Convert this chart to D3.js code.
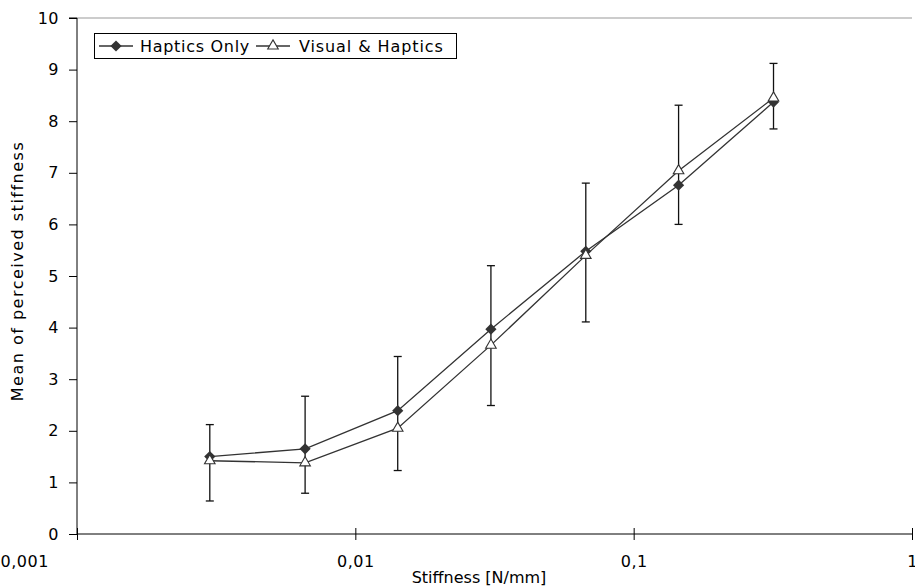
<!DOCTYPE html>
<html><head><meta charset="utf-8">
<script src="https://cdn.jsdelivr.net/npm/d3@7"></script>
<style>body{margin:0;background:#fff}svg{display:block}text{font-family:"DejaVu Sans",Verdana,sans-serif}</style>
</head><body><svg id="c" width="915" height="587"></svg>
<script>
const stiffness = [0.003, 0.0066, 0.0142, 0.0307, 0.0673, 0.145, 0.318];
const hapticsOnly = [1.50, 1.65, 2.39, 3.97, 5.48, 6.76, 8.37];
const visualHaptics = [1.42, 1.38, 2.05, 3.66, 5.40, 7.04, 8.45];
const errTop = [2.12, 2.67, 3.44, 5.20, 6.80, 8.31, 9.12];
const errBottom = [0.64, 0.79, 1.23, 2.49, 4.11, 6.00, 7.85];
const xTicks = [0.001, 0.01, 0.1, 1];
const xTickLabels = ["0,001", "0,01", "0,1", "1"];
const yTicks = [0,1,2,3,4,5,6,7,8,9,10];
const seriesNames = ["Haptics Only", "Visual & Haptics"];

const svg = d3.select("#c");
const L = 77, R = 912, T = 18, B = 534;
const x = d3.scaleLog().domain([0.001, 1]).range([L, R]);
const y = d3.scaleLinear().domain([0, 10]).range([B, T]);
const fs = 16;

svg.append("line").attr("x1", L).attr("x2", R).attr("y1", T).attr("y2", T).attr("stroke", "#999").attr("stroke-width", 1);

const ya = svg.append("g").attr("transform", `translate(${L},0)`)
  .call(d3.axisLeft(y).tickValues(yTicks).tickSize(8).tickPadding(10).tickFormat(d3.format("d")));
ya.select(".domain").attr("stroke", "#000").attr("d", `M-8,${T}H0V${B}`);
ya.selectAll("text").attr("font-size", fs).attr("fill", "#000").attr("font-family", '"DejaVu Sans",Verdana,sans-serif').attr("letter-spacing", 0.5);

const xa = svg.append("g").attr("transform", `translate(0,${B})`)
  .call(d3.axisBottom(x).tickValues(xTicks).tickSize(6).tickPadding(16).tickFormat((d,i)=>xTickLabels[i]));
xa.select(".domain").attr("stroke", "#000").attr("d", `M${L},0H${R}`);
xa.selectAll(".tick line").attr("y1", -6).attr("y2", 6);
xa.selectAll("text").attr("font-size", fs).attr("fill", "#000").attr("font-family", '"DejaVu Sans",Verdana,sans-serif').attr("letter-spacing", 0.5);
// first label sits at the left edge as in the reference
xa.selectAll(".tick text").filter((d,i)=>i===0).attr("text-anchor", "start").attr("x", -L);

svg.append("text").attr("x", 479).attr("y", 583).attr("text-anchor", "middle").attr("font-size", fs).text("Stiffness [N/mm]");
svg.append("text").attr("transform", `translate(23,271) rotate(-90)`).attr("text-anchor", "middle").attr("font-size", fs).attr("letter-spacing", 1.5).text("Mean of perceived stiffness");

const eb = svg.append("g").attr("stroke", "#111").attr("stroke-width", 1.3);
stiffness.forEach((s, i) => {
  const cx = x(s);
  eb.append("line").attr("x1", cx).attr("x2", cx).attr("y1", y(errTop[i])).attr("y2", y(errBottom[i]));
  eb.append("line").attr("x1", cx-4).attr("x2", cx+4).attr("y1", y(errTop[i])).attr("y2", y(errTop[i]));
  eb.append("line").attr("x1", cx-4).attr("x2", cx+4).attr("y1", y(errBottom[i])).attr("y2", y(errBottom[i]));
});

const line = d3.line().x(d => x(d[0])).y(d => y(d[1]));
const hData = stiffness.map((s,i)=>[s, hapticsOnly[i]]);
const vData = stiffness.map((s,i)=>[s, visualHaptics[i]]);
svg.append("path").datum(hData).attr("d", line).attr("fill", "none").attr("stroke", "#333").attr("stroke-width", 1.3);
svg.append("path").datum(vData).attr("d", line).attr("fill", "none").attr("stroke", "#333").attr("stroke-width", 1.3);

const diamond = d3.symbol().type(d3.symbolDiamond2).size(80);
const tri = d3.symbol().type(d3.symbolTriangle2).size(80);
svg.append("g").selectAll("path").data(hData).join("path")
  .attr("transform", d => `translate(${x(d[0])},${y(d[1])})`).attr("d", diamond).attr("fill", "#333");
svg.append("g").selectAll("path").data(vData).join("path")
  .attr("transform", d => `translate(${x(d[0])},${y(d[1])})`).attr("d", tri).attr("fill", "#fff").attr("stroke", "#333").attr("stroke-width", 1.1);

const lg = svg.append("g");
lg.append("rect").attr("x", 94.5).attr("y", 33.5).attr("width", 362).attr("height", 25).attr("fill", "#fff").attr("stroke", "#000");
const ly = 46;
lg.append("line").attr("x1", 99).attr("x2", 133).attr("y1", ly).attr("y2", ly).attr("stroke", "#333").attr("stroke-width", 1.3);
lg.append("path").attr("transform", `translate(116,${ly})`).attr("d", diamond).attr("fill", "#333");
lg.append("text").attr("x", 140).attr("y", ly+6).attr("font-size", fs).attr("letter-spacing", 0.7).text(seriesNames[0]);
lg.append("line").attr("x1", 256).attr("x2", 290).attr("y1", ly).attr("y2", ly).attr("stroke", "#333").attr("stroke-width", 1.3);
lg.append("path").attr("transform", `translate(273,${ly})`).attr("d", tri).attr("fill", "#fff").attr("stroke", "#333").attr("stroke-width", 1.1);
lg.append("text").attr("x", 299).attr("y", ly+6).attr("font-size", fs).attr("letter-spacing", 0.9).text(seriesNames[1]);
</script></body></html>
